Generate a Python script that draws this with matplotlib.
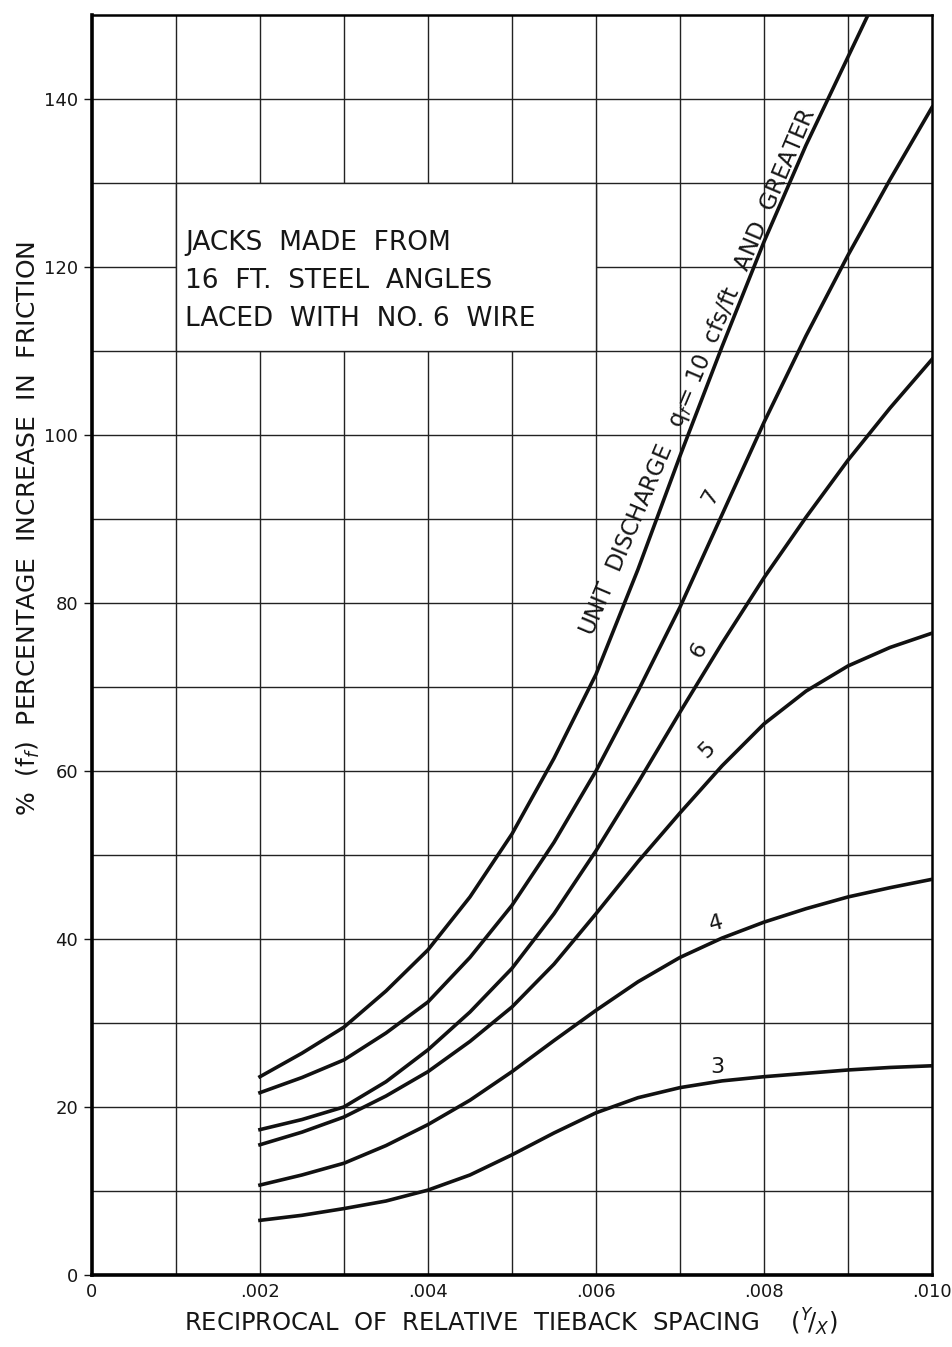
import numpy as np
import matplotlib.pyplot as plt
from matplotlib.patches import Rectangle

plt.rcParams['font.family'] = ['DejaVu Sans']
plt.rcParams['mathtext.fontset'] = 'dejavusans'

# values
x = [.002, .0025, .003, .0035, .004, .0045, .005, .0055, .006, .0065,
     .007, .0075, .008, .0085, .009, .0095, .010]
q10 = [23.6, 26.4, 29.5, 33.8, 38.7, 45.0, 52.5, 61.5, 71.5, 84.0,
       97.5, 110.5, 123.0, 134.5, 145.0, 155.5]
q7 = [21.7, 23.5, 25.6, 28.8, 32.5, 37.8, 44.0, 51.5, 60.0, 69.5,
      79.5, 90.5, 101.5, 111.8, 121.4, 130.4, 139.0]
q6 = [17.3, 18.5, 20.0, 23.0, 26.8, 31.3, 36.5, 43.0, 50.5, 58.6,
      67.0, 75.2, 83.0, 90.2, 97.0, 103.2, 109.0]
q5 = [15.5, 17.0, 18.8, 21.3, 24.2, 27.8, 31.9, 37.0, 43.0, 49.2,
      55.0, 60.6, 65.6, 69.5, 72.5, 74.7, 76.4]
q4 = [10.7, 11.9, 13.3, 15.4, 17.9, 20.8, 24.2, 27.9, 31.5, 34.9,
      37.8, 40.1, 42.0, 43.6, 45.0, 46.1, 47.1]
q3 = [6.5, 7.1, 7.9, 8.8, 10.1, 11.9, 14.3, 16.9, 19.3, 21.1,
      22.3, 23.1, 23.6, 24.0, 24.4, 24.7, 24.9]

xticks = [0, .002, .004, .006, .008, .010]
xticklabels = ['0', '.002', '.004', '.006', '.008', '.010']
yticks = [0, 20, 40, 60, 80, 100, 120, 140]

ink = '#161616'

fig = plt.figure(figsize=(9.52, 13.47), dpi=100)
ax = fig.add_axes([0.0966, 0.0535, 0.8824, 0.9354])
ax.set_xlim(0, 0.010)
ax.set_ylim(0, 150)

# grid
for gx in np.arange(0.001, 0.0100, 0.001):
    ax.axvline(gx, color='#222222', lw=1.0, zorder=1)
for gy in np.arange(10, 150, 10):
    ax.axhline(gy, color='#222222', lw=1.0, zorder=1)

# note box hides the grid behind it
ax.add_patch(Rectangle((0.001, 110), 0.005, 20, facecolor='white',
                       edgecolor='#222222', lw=1.0, zorder=2))
ax.text(0.00111, 118.3, 'JACKS  MADE  FROM\n16  FT.  STEEL  ANGLES\nLACED  WITH  NO. 6  WIRE',
        fontsize=19, va='center', ha='left',
        linespacing=1.6, zorder=3, color=ink)

for ys in [q7, q6, q5, q4, q3]:
    ax.plot(x, ys, color='#111111', lw=2.6, zorder=4, solid_joinstyle='round')
ax.plot(x[:len(q10)], q10, color='#111111', lw=2.6, zorder=4, solid_joinstyle='round')

# curve labels
ax.text(0.00722, 107.5, r'UNIT  DISCHARGE   q$_f$= 10  cfs/ft   AND  GREATER',
        rotation=67, fontsize=16.5, ha='center', va='center', zorder=5, color=ink)
ax.text(0.00736, 92.6, '7', rotation=60, fontsize=16, ha='center', va='center', color=ink)
ax.text(0.00723, 74.4, '6', rotation=60, fontsize=16, ha='center', va='center', color=ink)
ax.text(0.00732, 62.5, '5', rotation=45, fontsize=16, ha='center', va='center', color=ink)
ax.text(0.00743, 41.9, '4', rotation=15, fontsize=16, ha='center', va='center', color=ink)
ax.text(0.00745, 24.8, '3', rotation=0, fontsize=16, ha='center', va='center', color=ink)

ax.set_xticks(xticks)
ax.set_xticklabels(xticklabels)
ax.set_yticks(yticks)
ax.set_yticklabels([str(v) for v in yticks])
ax.tick_params(axis='x', length=0, labelsize=13, pad=6, colors=ink)
ax.tick_params(axis='y', length=6, width=1, labelsize=13, pad=4, colors=ink)

for side in ['left', 'bottom']:
    ax.spines[side].set_linewidth(2.6)
for side in ['right', 'top']:
    ax.spines[side].set_linewidth(1.8)

fig.text(0.536, 0.018,
         r'RECIPROCAL  OF  RELATIVE  TIEBACK  SPACING    $(^{Y}\!/_{X})$',
         fontsize=17.5, ha='center', va='center', color=ink)
fig.text(0.03, 0.608, r'%  (f$_f$)  PERCENTAGE  INCREASE  IN  FRICTION',
         rotation=90, fontsize=18, ha='center', va='center', color=ink)

fig.savefig('out.png', dpi=100)
